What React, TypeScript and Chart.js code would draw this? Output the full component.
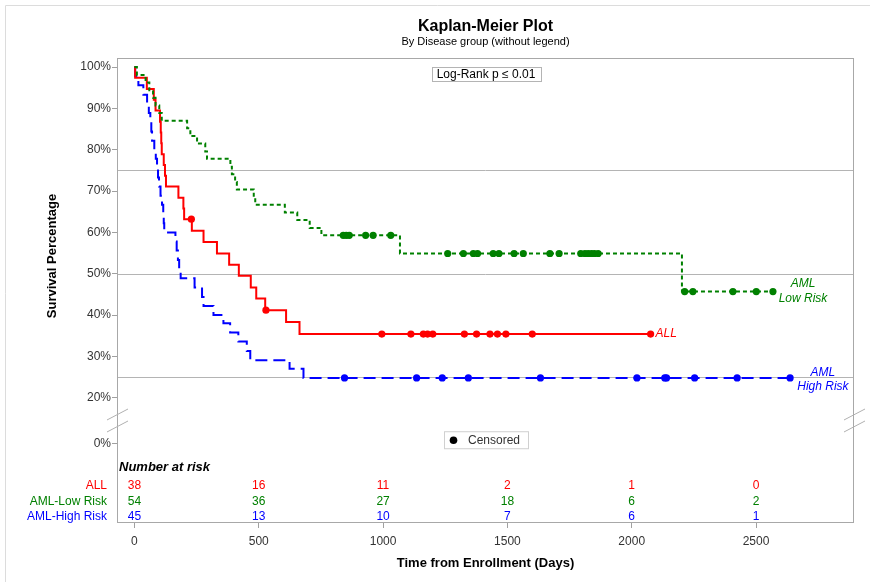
import React, { useEffect, useRef } from 'react';
import { Chart, registerables } from 'chart.js';

Chart.register(...registerables);

// ---- Data ----
const xTicks = [0, 500, 1000, 1500, 2000, 2500];
const yTicks = [0, 20, 30, 40, 50, 60, 70, 80, 90, 100];
const refLines = [25, 50, 75];

// ALL
const allTimes = [0, 3, 50, 78, 85, 103, 106, 108, 110, 118, 123, 127, 177, 197, 200, 231, 278, 332, 381, 420, 468, 490, 526, 610, 664];
const allSurv = [100, 97.4, 94.7, 92.1, 89.5, 86.8, 84.2, 81.6, 78.9, 76.3, 73.7, 71.1, 68.4, 65.8, 63.2, 60.4, 57.7, 54.9, 52.2, 49.5, 46.7, 44.0, 41.2, 38.3, 35.4];
const allCensor = [229, 529, 995, 1112, 1162, 1179, 1200, 1327, 1376, 1430, 1460, 1494, 1600, 2076];

// AML-Low Risk
const lowTimes = [0, 10, 45, 60, 75, 85, 100, 110, 212, 225, 252, 285, 292, 386, 392, 405, 412, 480, 486, 605, 655, 705, 752, 1068, 2202];
const lowSurv = [100, 98.1, 96.3, 94.4, 92.6, 90.7, 88.9, 87.0, 85.2, 83.3, 81.5, 79.6, 77.8, 75.9, 74.1, 72.2, 70.4, 68.5, 66.7, 64.8, 63.0, 61.1, 59.3, 54.9, 45.7];
const lowCensor = [840, 852, 864, 930, 960, 1031, 1260, 1323, 1363, 1380, 1443, 1466, 1527, 1564, 1671, 1708, 1795, 1812, 1825, 1838, 1850, 1865, 2213, 2246, 2407, 2501, 2568];

// AML-High Risk
const highTimes = [0, 3, 16, 36, 51, 58, 64, 68, 71, 80, 86, 91, 95, 99, 105, 111, 116, 118, 120, 165, 170, 175, 180, 186, 242, 272, 278, 318, 358, 385, 418, 452, 466, 624, 680];
const highSurv = [100, 97.8, 95.6, 93.3, 91.1, 88.9, 86.7, 84.4, 82.2, 80.0, 77.8, 75.6, 73.3, 71.1, 68.9, 66.7, 64.4, 62.2, 60.0, 57.8, 55.6, 53.3, 51.1, 48.9, 46.7, 44.4, 42.2, 40.0, 38.0, 35.8, 33.6, 31.3, 29.1, 27.0, 24.8];
const highCensor = [845, 1135, 1238, 1343, 1633, 2021, 2133, 2140, 2253, 2424, 2637];

// Number at risk
const riskGroups = ['ALL', 'AML-Low Risk', 'AML-High Risk'];
const riskAll = [38, 16, 11, 2, 1, 0];
const riskLow = [54, 36, 27, 18, 6, 2];
const riskHigh = [45, 13, 10, 7, 6, 1];

// ---- Styling ----
const RED = '#ff0000';
const GREEN = '#008000';
const BLUE = '#0000ff';
const FONT = '"Liberation Sans", Arial, sans-serif';
const ZERO_POS = 9; // broken axis: position where 0% is drawn

const toAxis = (v: number) => (v >= 20 ? v : ZERO_POS + (v / 20) * (20 - ZERO_POS));

function stepValue(times: number[], surv: number[], t: number) {
  let v = surv[0];
  for (let i = 0; i < times.length; i++) if (times[i] <= t) v = surv[i];
  return v;
}

function curve(times: number[], surv: number[], censor: number[]) {
  const pts = times.map((t, i) => ({ x: t, y: surv[i] }));
  const end = censor[censor.length - 1];
  pts.push({ x: end, y: surv[surv.length - 1] });
  return pts;
}

function censorPts(times: number[], surv: number[], censor: number[]) {
  return censor.map((c) => ({ x: c, y: stepValue(times, surv, c) }));
}

const decorPlugin = {
  id: 'decor',
  beforeDatasetsDraw(chart: any) {
    const { ctx, chartArea: a, scales } = chart;
    const y = scales.y;
    ctx.save();
    ctx.strokeStyle = '#b4b4b4';
    ctx.lineWidth = 1;
    refLines.forEach((r) => {
      const py = Math.round(y.getPixelForValue(r)) + 0.5;
      ctx.beginPath();
      ctx.moveTo(a.left, py);
      ctx.lineTo(a.right, py);
      ctx.stroke();
    });
    ctx.restore();
  },
  afterDraw(chart: any) {
    const { ctx, chartArea: a, scales } = chart;
    const x = scales.x;
    const y = scales.y;
    const cx = (a.left + a.right) / 2;
    ctx.save();

    // outer frame
    ctx.strokeStyle = '#dcdcdc';
    ctx.lineWidth = 1;
    ctx.beginPath();
    ctx.moveTo(870, 5.5);
    ctx.lineTo(5.5, 5.5);
    ctx.lineTo(5.5, 582);
    ctx.stroke();

    // plot frame
    ctx.strokeStyle = '#a8a8a8';
    ctx.strokeRect(Math.round(a.left) + 0.5, Math.round(a.top) + 0.5, Math.round(a.right - a.left) - 1, Math.round(a.bottom - a.top) - 1);

    // axis breaks
    const brkY = (y.getPixelForValue(20) + y.getPixelForValue(ZERO_POS)) / 2;
    ctx.strokeStyle = '#b0b0b0';
    [a.left, a.right].forEach((bx) => {
      [-6, 6].forEach((off) => {
        ctx.beginPath();
        ctx.moveTo(bx - 10, brkY + off + 5.5);
        ctx.lineTo(bx + 11, brkY + off - 5.5);
        ctx.stroke();
      });
    });

    // titles
    ctx.fillStyle = '#000';
    ctx.textAlign = 'center';
    ctx.textBaseline = 'middle';
    ctx.font = `bold 16px ${FONT}`;
    ctx.fillText('Kaplan-Meier Plot', cx, 27);
    ctx.font = `11px ${FONT}`;
    ctx.fillText('By Disease group (without legend)', cx, 42);

    // axis titles
    ctx.font = `bold 13px ${FONT}`;
    ctx.fillText('Time from Enrollment (Days)', cx, 563);
    ctx.save();
    ctx.translate(52, 256);
    ctx.rotate(-Math.PI / 2);
    ctx.fillText('Survival Percentage', 0, 0);
    ctx.restore();

    // log-rank box
    ctx.font = `12px ${FONT}`;
    const lrText = 'Log-Rank p \u2264 0.01';
    const lrW = ctx.measureText(lrText).width + 10;
    ctx.strokeStyle = '#b4b4b4';
    ctx.fillStyle = '#fff';
    ctx.fillRect(486 - lrW / 2, 67.5, lrW, 14);
    ctx.strokeRect(Math.round(486 - lrW / 2) + 0.5, 67.5, Math.round(lrW), 14);
    ctx.fillStyle = '#000';
    ctx.fillText(lrText, 486, 75);

    // censored legend
    const legY = y.getPixelForValue(ZERO_POS) - 3;
    ctx.strokeStyle = '#d0d0d0';
    ctx.strokeRect(444.5, legY - 8.5, 84, 17);
    ctx.fillStyle = '#000';
    ctx.beginPath();
    ctx.arc(453.5, legY, 3.8, 0, Math.PI * 2);
    ctx.fill();
    ctx.fillStyle = '#333';
    ctx.textAlign = 'left';
    ctx.fillText('Censored', 468, legY);

    // number at risk
    ctx.fillStyle = '#000';
    ctx.font = `italic bold 13px ${FONT}`;
    ctx.fillText('Number at risk', a.left + 2, a.bottom - 56);
    const rows = [riskAll, riskLow, riskHigh];
    const cols = [RED, GREEN, BLUE];
    ctx.font = `12px ${FONT}`;
    rows.forEach((row, r) => {
      const ry = a.bottom - 37 + r * 15.3;
      ctx.fillStyle = cols[r];
      ctx.textAlign = 'right';
      ctx.fillText(riskGroups[r], a.left - 10, ry);
      ctx.textAlign = 'center';
      row.forEach((n, i) => ctx.fillText(String(n), x.getPixelForValue(xTicks[i]), ry));
    });

    // curve labels
    ctx.font = `italic 12px ${FONT}`;
    ctx.fillStyle = RED;
    ctx.textAlign = 'left';
    const lastAll = allCensor[allCensor.length - 1];
    ctx.fillText('ALL', x.getPixelForValue(lastAll) + 5, y.getPixelForValue(allSurv[allSurv.length - 1]));
    ctx.textAlign = 'center';
    ctx.fillStyle = GREEN;
    const gx = x.getPixelForValue(2689);
    const gy = y.getPixelForValue(lowSurv[lowSurv.length - 1]);
    ctx.fillText('AML', gx, gy - 7.5);
    ctx.fillText('Low Risk', gx, gy + 7.5);
    ctx.fillStyle = BLUE;
    const bx = x.getPixelForValue(2769);
    const by = y.getPixelForValue(24.3);
    ctx.fillText('AML', bx, by - 7);
    ctx.fillText('High Risk', bx, by + 7);

    ctx.restore();
  },
};

export default function App() {
  const ref = useRef<HTMLCanvasElement>(null);

  useEffect(() => {
    const canvas = ref.current;
    if (!canvas) return;
    const lineDs = (label: string, pts: any[], color: string, dash: number[]) => ({
      label,
      data: pts,
      borderColor: color,
      backgroundColor: color,
      borderWidth: 2,
      borderDash: dash,
      stepped: true,
      pointRadius: 0,
      fill: false,
      order: 2,
    });
    const censorDs = (label: string, pts: any[], color: string) => ({
      label,
      data: pts,
      showLine: false,
      pointRadius: 3.6,
      pointBorderWidth: 0,
      pointBackgroundColor: color,
      borderColor: color,
      order: 1,
    });

    const chart = new Chart(canvas, {
      type: 'line',
      data: {
        datasets: [
          lineDs('AML-Low Risk', curve(lowTimes, lowSurv, lowCensor), GREEN, [4, 3]),
          lineDs('ALL', curve(allTimes, allSurv, allCensor), RED, []),
          lineDs('AML-High Risk', curve(highTimes, highSurv, highCensor), BLUE, [12, 6]),
          censorDs('Low censored', censorPts(lowTimes, lowSurv, lowCensor), GREEN),
          censorDs('ALL censored', censorPts(allTimes, allSurv, allCensor), RED),
          censorDs('High censored', censorPts(highTimes, highSurv, highCensor), BLUE),
        ] as any,
      },
      options: {
        animation: false,
        responsive: false,
        events: [],
        layout: { padding: { top: 58, right: 16, left: 0, bottom: 0 } },
        plugins: { legend: { display: false }, tooltip: { enabled: false }, title: { display: false } },
        scales: {
          x: {
            type: 'linear',
            min: -70,
            max: 2894,
            afterFit: (s: any) => { s.height = 59; },
            afterBuildTicks: (s: any) => { s.ticks = xTicks.map((v) => ({ value: v })); },
            border: { display: false },
            grid: { drawOnChartArea: false, drawTicks: true, tickLength: 5, color: '#a0a0a0' },
            ticks: {
              color: '#333',
              font: { family: FONT, size: 12 },
              padding: 6,
              maxRotation: 0,
              callback: (v: any) => String(Math.round(v)),
            },
          },
          y: {
            type: 'linear',
            min: -10.3,
            max: 102.2,
            afterFit: (s: any) => { s.width = 117; },
            afterBuildTicks: (s: any) => { s.ticks = yTicks.map((v) => ({ value: toAxis(v) })); },
            border: { display: false },
            grid: { drawOnChartArea: false, drawTicks: true, tickLength: 5, color: '#a0a0a0' },
            ticks: {
              color: '#333',
              font: { family: FONT, size: 12 },
              padding: 1,
              callback: (v: any) => (Math.abs(v - ZERO_POS) < 0.01 ? '0%' : `${Math.round(v)}%`),
            },
          },
        },
      },
      plugins: [decorPlugin],
    });
    return () => chart.destroy();
  }, []);

  return (
    <div style={{ position: 'absolute', left: 0, top: 0, width: 870, height: 582, background: '#fff' }}>
      <canvas ref={ref} width={870} height={582} style={{ width: 870, height: 582, display: 'block' }} />
    </div>
  );
}
